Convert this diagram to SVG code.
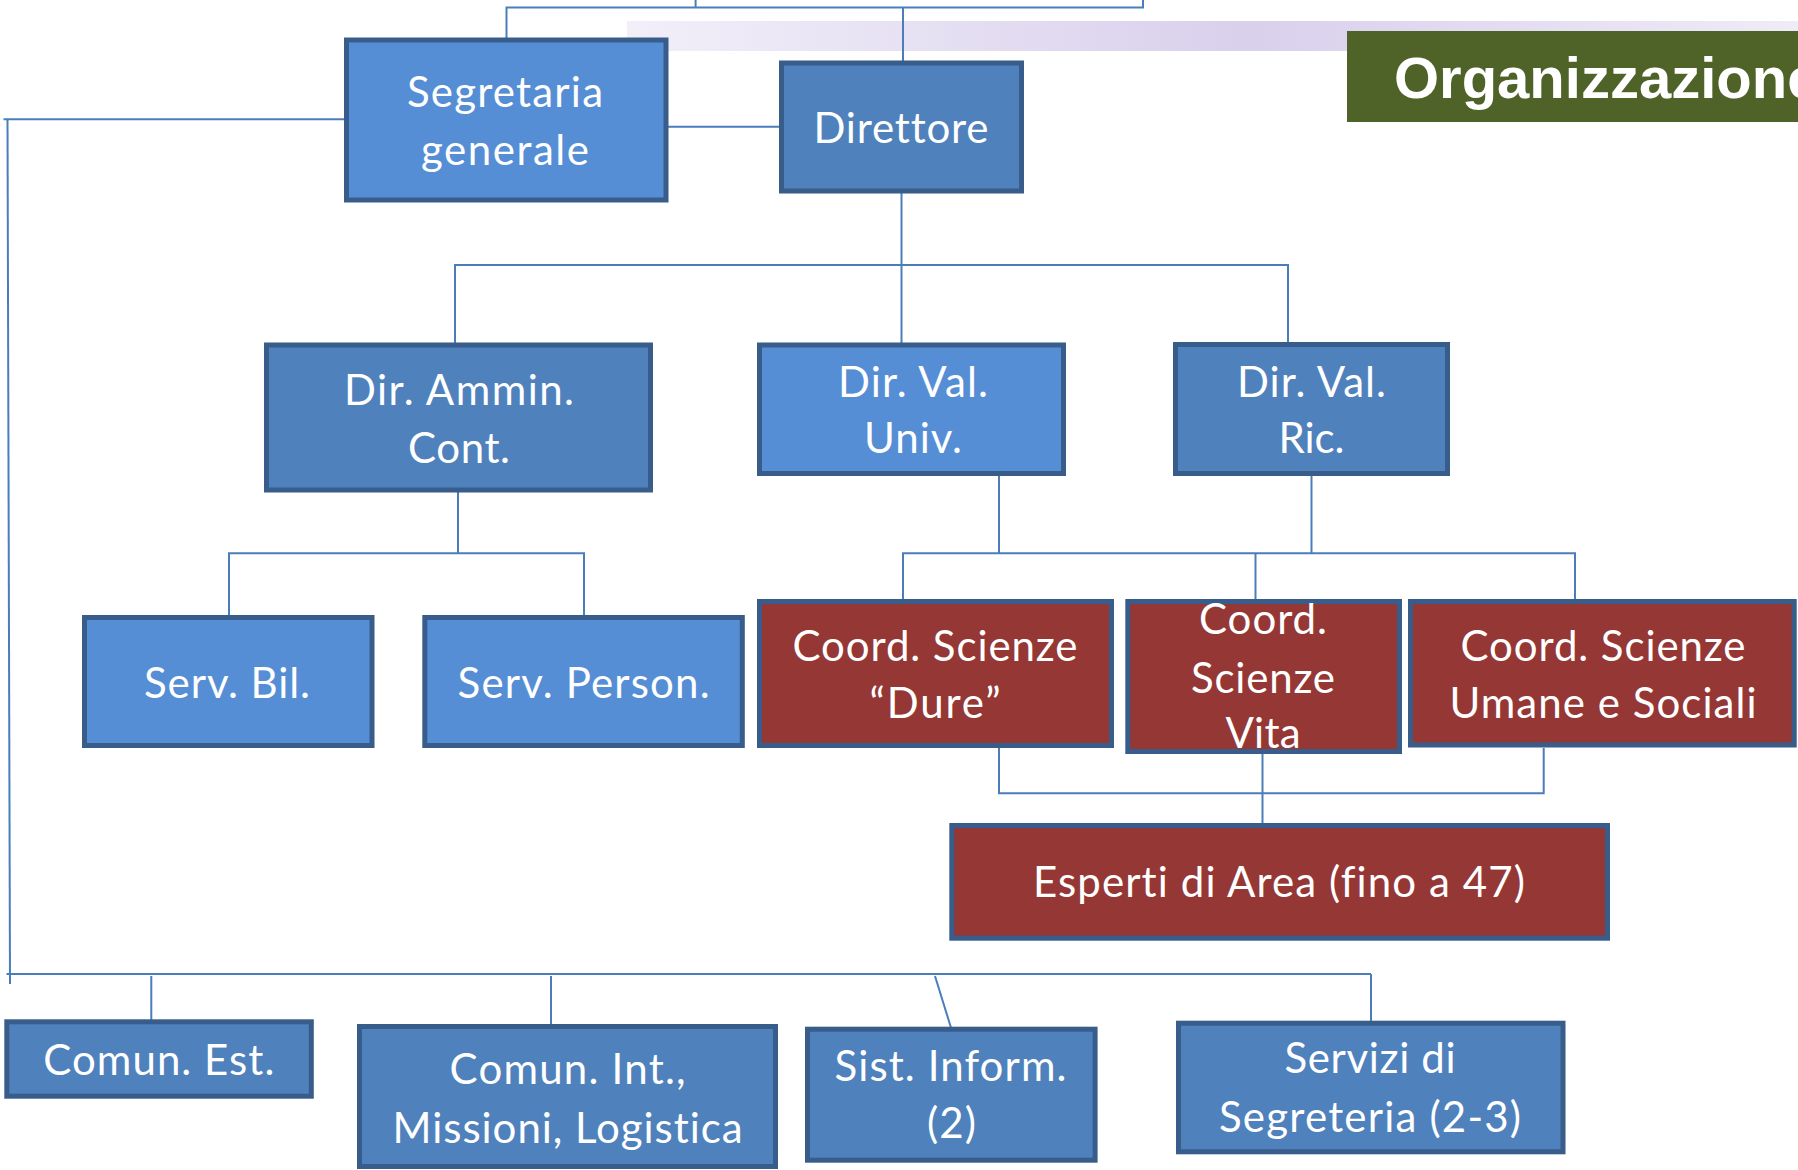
<svg xmlns="http://www.w3.org/2000/svg" width="1798" height="1170" viewBox="0 0 1798 1170">
<defs>
<linearGradient id="band" x1="627" y1="0" x2="1798" y2="0" gradientUnits="userSpaceOnUse">
<stop offset="0" stop-color="#f2eff9"/>
<stop offset="0.53" stop-color="#d9d0ec"/>
<stop offset="1" stop-color="#efebf8"/>
</linearGradient>
<style>
.box{stroke:#385d8a;stroke-width:5}
.lt{fill:#558ed5}
.dk{fill:#4f81bd}
.rd{fill:#953735}
.t{font-family:Lato,"Noto Sans","DejaVu Sans",sans-serif;font-size:42px;fill:#ffffff;text-anchor:middle;font-variant-ligatures:none;font-feature-settings:"liga" 0,"clig" 0}
.c{stroke:#4a7ebb;stroke-width:2;fill:none}
</style>
</defs>
<rect width="1798" height="1170" fill="#ffffff"/>
<rect x="627" y="21" width="1171" height="30" fill="url(#band)"/>
<g id="title">
<rect x="1347" y="31" width="451" height="91" fill="#4f6228"/>
<text x="1394" y="98" font-family="'Liberation Sans',Arial,sans-serif" font-weight="bold" font-size="58" fill="#ffffff">Organizzazione</text>
</g>
<g id="connectors">
<polyline class="c" points="506.5,40 506.5,7.5 1143,7.5 1143,0"/>
<line class="c" x1="695.6" y1="0" x2="695.6" y2="7.5"/>
<line class="c" x1="903" y1="7.5" x2="903" y2="62"/>
<line class="c" x1="668" y1="126.7" x2="779" y2="126.7"/>
<line class="c" x1="3.5" y1="119.3" x2="344" y2="119.3"/>
<line class="c" x1="7.5" y1="119.3" x2="10" y2="984"/>
<line class="c" x1="901.5" y1="193" x2="901.5" y2="344"/>
<polyline class="c" points="455,343 455,265 1288,265 1288,343"/>
<line class="c" x1="458" y1="492" x2="458" y2="553.3"/>
<polyline class="c" points="229,617 229,553.3 584,553.3 584,617"/>
<line class="c" x1="999" y1="476" x2="999" y2="553.3"/>
<line class="c" x1="1311.5" y1="476" x2="1311.5" y2="553.3"/>
<polyline class="c" points="903,601 903,553.3 1575,553.3 1575,601"/>
<line class="c" x1="1255.5" y1="553.3" x2="1255.5" y2="601"/>
<polyline class="c" points="999,748 999,793.3 1543.7,793.3 1543.7,748"/>
<line class="c" x1="1262.5" y1="754" x2="1262.5" y2="825"/>
<line class="c" x1="6.5" y1="974" x2="1371" y2="974"/>
<line class="c" x1="151.3" y1="976" x2="151.3" y2="1020"/>
<line class="c" x1="551" y1="976" x2="551" y2="1026"/>
<line class="c" x1="935" y1="976" x2="951.7" y2="1030"/>
<line class="c" x1="1371" y1="974" x2="1371" y2="1022"/>
</g>
<g id="segretaria">
<rect class="box lt" x="346.5" y="40" width="319.5" height="160"/>
<text class="t" x="505" y="107" textLength="196">Segretaria</text>
<text class="t" x="505" y="165" textLength="168">generale</text>
</g>
<g id="direttore">
<rect class="box dk" x="781.5" y="63" width="240" height="128"/>
<text class="t" x="901" y="143" textLength="175">Direttore</text>
</g>
<g id="dir-ammin">
<rect class="box dk" x="266.5" y="345" width="384" height="145"/>
<text class="t" x="459" y="405" textLength="230">Dir. Ammin.</text>
<text class="t" x="459" y="462.5" textLength="102">Cont.</text>
</g>
<g id="dir-val-univ">
<rect class="box lt" x="759.5" y="345" width="304" height="128.5"/>
<text class="t" x="913" y="396.5" textLength="150">Dir. Val.</text>
<text class="t" x="913" y="453" textLength="98">Univ.</text>
</g>
<g id="dir-val-ric">
<rect class="box dk" x="1175.5" y="344.5" width="272" height="129"/>
<text class="t" x="1311.5" y="396.5" textLength="149">Dir. Val.</text>
<text class="t" x="1311.5" y="453" textLength="66">Ric.</text>
</g>
<g id="serv-bil">
<rect class="box lt" x="84.5" y="617.5" width="287.5" height="128"/>
<text class="t" x="227" y="697.5" textLength="166">Serv. Bil.</text>
</g>
<g id="serv-person">
<rect class="box lt" x="424.8" y="617.5" width="317.5" height="128"/>
<text class="t" x="583.6" y="697.5" textLength="252">Serv. Person.</text>
</g>
<g id="coord-dure">
<rect class="box rd" x="759.5" y="601.5" width="352" height="144"/>
<text class="t" x="935" y="660.7" textLength="285">Coord. Scienze</text>
<text class="t" x="935" y="718.3" textLength="131">“Dure”</text>
</g>
<g id="coord-vita">
<rect class="box rd" x="1127.8" y="601.5" width="271.7" height="150"/>
<text class="t" x="1263" y="634.3" textLength="128">Coord.</text>
<text class="t" x="1263" y="692.7" textLength="144">Scienze</text>
<text class="t" x="1263" y="748.3" textLength="75">Vita</text>
</g>
<g id="coord-umane">
<rect class="box rd" x="1410.5" y="601.5" width="383.7" height="143.5"/>
<text class="t" x="1603" y="661" textLength="285">Coord. Scienze</text>
<text class="t" x="1603" y="718.3" textLength="307">Umane e Sociali</text>
</g>
<g id="esperti">
<rect class="box rd" x="951.8" y="825.5" width="655.7" height="112.7"/>
<text class="t" x="1279" y="896.7" textLength="492">Esperti di Area (fino a 47)</text>
</g>
<g id="comun-est">
<rect class="box dk" x="6.8" y="1021.8" width="304.5" height="74.4"/>
<text class="t" x="158.8" y="1075" textLength="231">Comun. Est.</text>
</g>
<g id="comun-int">
<rect class="box dk" x="359.5" y="1026.5" width="416" height="140"/>
<text class="t" x="567.6" y="1084.3" textLength="236">Comun. Int.,</text>
<text class="t" x="567.6" y="1143.3" textLength="350">Missioni, Logistica</text>
</g>
<g id="sist-inform">
<rect class="box dk" x="807.5" y="1029.2" width="287.6" height="131"/>
<text class="t" x="950.5" y="1081" textLength="232">Sist. Inform.</text>
<text class="t" x="951.5" y="1138.3" textLength="49">(2)</text>
</g>
<g id="servizi">
<rect class="box dk" x="1178.5" y="1023.2" width="384.5" height="128.6"/>
<text class="t" x="1370" y="1073.3" textLength="171">Servizi di</text>
<text class="t" x="1370" y="1131.7" textLength="302">Segreteria (2-3)</text>
</g>
</svg>
